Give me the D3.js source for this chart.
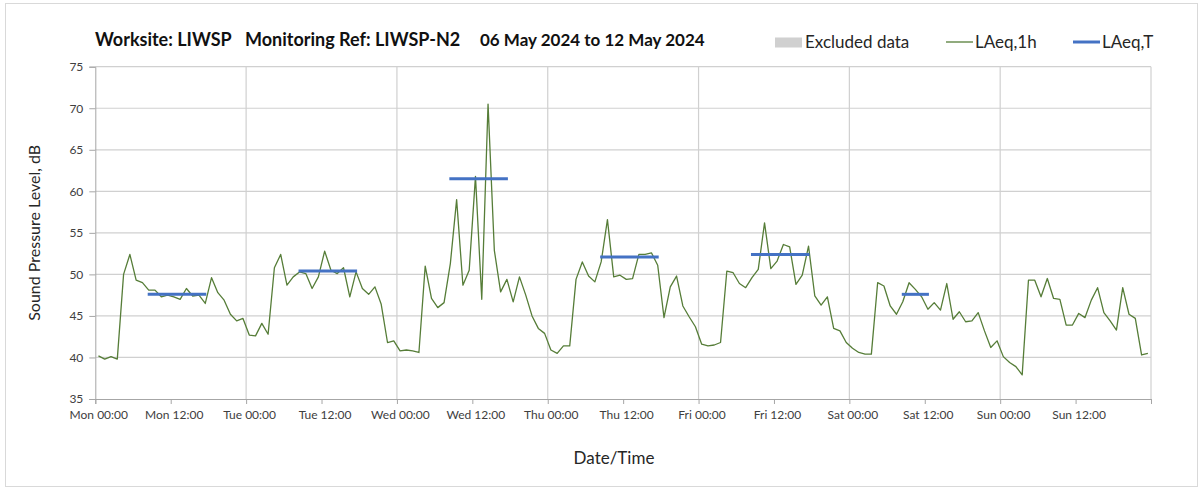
<!DOCTYPE html>
<html><head><meta charset="utf-8">
<script src="https://cdn.jsdelivr.net/npm/d3@7"></script>
<style>
html,body{margin:0;padding:0;background:#fff;}
svg{display:block;font-family:Lato,"Open Sans",sans-serif;}
</style></head>
<body>
<svg id="chart" width="1203" height="490"></svg>
<script>
// Hourly LAeq,1h values, Mon 06 May 00:00 .. Sun 12 May 23:00
const laeq1h = [
  40.2,39.8,40.1,39.8,50.0,52.4,49.3,49.0,48.1,48.1,47.3,47.5,47.3,47.0,48.3,47.4,47.5,46.5,49.6,47.8,46.9,45.2,44.4,44.7,
  42.7,42.6,44.1,42.8,50.8,52.4,48.7,49.7,50.3,50.1,48.3,49.7,52.8,50.5,50.1,50.8,47.3,50.3,48.3,47.6,48.5,46.4,41.8,42.0,
  40.8,40.9,40.8,40.6,51.0,47.1,46.0,46.6,51.3,59.0,48.7,50.5,61.8,47.0,70.5,52.9,47.9,49.4,46.7,49.7,47.5,45.0,43.5,42.9,
  40.9,40.5,41.4,41.4,49.4,51.5,49.8,49.1,51.5,56.6,49.7,49.9,49.4,49.5,52.4,52.4,52.6,51.1,44.8,48.5,49.8,46.2,44.9,43.7,
  41.6,41.4,41.5,41.8,50.4,50.2,48.9,48.4,49.6,50.6,56.2,50.7,51.6,53.6,53.3,48.8,49.9,53.4,47.4,46.3,47.3,43.5,43.2,41.8,
  41.1,40.6,40.4,40.4,49.0,48.6,46.2,45.2,46.7,49.0,48.2,47.3,45.8,46.6,45.7,48.9,44.6,45.5,44.3,44.4,45.4,43.2,41.2,42.0,
  40.1,39.4,38.9,37.9,49.3,49.3,47.3,49.5,47.1,47.0,43.9,43.9,45.3,44.8,46.9,48.4,45.4,44.4,43.3,48.4,45.2,44.7,40.3,40.5
];
// LAeq,T periods (first and last hour index) and values
const periodStart = [8, 32, 56, 80, 104, 128];
const periodEnd   = [17, 41, 65, 89, 113, 132];
const laeqT       = [47.6, 50.4, 61.5, 52.1, 52.4, 47.6];
// Axis tick labels (every 12 hours)
const tickLabels = ["Mon 00:00","Mon 12:00","Tue 00:00","Tue 12:00","Wed 00:00","Wed 12:00","Thu 00:00",
  "Thu 12:00","Fri 00:00","Fri 12:00","Sat 00:00","Sat 12:00","Sun 00:00","Sun 12:00"];
const yTicks = [35,40,45,50,55,60,65,70,75];

const svg = d3.select("#chart");
const L = 95.3, R = 1151, T = 66.7, B = 399;
const nH = laeq1h.length;
const x = d3.scaleLinear().domain([0, nH]).range([L, R]);
const y = d3.scaleLinear().domain([35, 75]).range([B, T]);

// outer border
svg.append("rect").attr("x",5.5).attr("y",3.5).attr("width",1192).attr("height",483)
  .attr("fill","none").attr("stroke","#d9d9d9").attr("stroke-width",1);

// horizontal gridlines
svg.append("g").selectAll("line").data(yTicks.slice(1)).join("line")
  .attr("x1",L).attr("x2",R).attr("y1",d=>y(d)).attr("y2",d=>y(d))
  .attr("stroke","#d0d0d0").attr("stroke-width",1.2);
// vertical gridlines at day boundaries
const dayTicks = d3.range(24, nH + 1, 24);
svg.append("g").selectAll("line").data(dayTicks).join("line")
  .attr("x1",d=>x(d)).attr("x2",d=>x(d)).attr("y1",T).attr("y2",B)
  .attr("stroke","#d0d0d0").attr("stroke-width",1.2);

// y axis
const yAxis = d3.axisLeft(y).tickValues(yTicks).tickSize(6).tickPadding(6);
const gy = svg.append("g").attr("transform",`translate(${L},0)`).call(yAxis);
gy.select(".domain").attr("stroke","#a6a6a6");
gy.selectAll(".tick line").attr("stroke","#a6a6a6");
gy.selectAll(".tick text").attr("fill","#404040").style("font-size","12px").style("font-family","Lato,sans-serif");

// x axis
const xTickVals = d3.range(0, nH + 1, 12);
const xAxis = d3.axisBottom(x).tickValues(xTickVals).tickSize(5).tickPadding(6)
  .tickFormat((d,i)=> tickLabels[i] || "");
const gx = svg.append("g").attr("transform",`translate(0,${B})`).call(xAxis);
gx.select(".domain").attr("stroke","#a6a6a6");
gx.selectAll(".tick line").attr("stroke","#a6a6a6");
gx.selectAll(".tick text").attr("fill","#404040").attr("dx",3).style("font-size","12px").style("font-family","Lato,sans-serif");

// LAeq,1h line
const line = d3.line().x((d,i)=>x(i+0.5)).y(d=>y(d));
svg.append("path").datum(laeq1h).attr("d",line)
  .attr("fill","none").attr("stroke","#567d38").attr("stroke-width",1.3).attr("stroke-linejoin","round");

// LAeq,T segments
svg.append("g").selectAll("line").data(laeqT).join("line")
  .attr("x1",(d,i)=>x(periodStart[i]+0.5)-1).attr("x2",(d,i)=>x(periodEnd[i]+0.5)+1)
  .attr("y1",d=>y(d)).attr("y2",d=>y(d))
  .attr("stroke","#4472c4").attr("stroke-width",3);

// title
const title = svg.append("g").style("font-weight","bold").attr("fill","#111");
title.append("text").attr("x",95).attr("y",46).style("font-size","18px").text("Worksite: LIWSP");
title.append("text").attr("x",245).attr("y",46).style("font-size","18px").text("Monitoring Ref: LIWSP-N2");
title.append("text").attr("x",480).attr("y",46).style("font-size","17px").text("06 May 2024 to 12 May 2024");

// legend
const lg = svg.append("g").style("font-size","17px").attr("fill","#262626");
lg.append("rect").attr("x",775).attr("y",37.5).attr("width",27).attr("height",10).attr("fill","#d0d0d0");
lg.append("text").attr("x",805).attr("y",48).text("Excluded data");
lg.append("line").attr("x1",946).attr("x2",973).attr("y1",42).attr("y2",42).attr("stroke","#567d38").attr("stroke-width",1.3);
lg.append("text").attr("x",975).attr("y",48).text("LAeq,1h");
lg.append("line").attr("x1",1073).attr("x2",1100).attr("y1",42).attr("y2",42).attr("stroke","#4472c4").attr("stroke-width",3);
lg.append("text").attr("x",1102).attr("y",48).text("LAeq,T");

// axis titles
svg.append("text").attr("transform",`translate(40,${(T+B)/2}) rotate(-90)`).attr("text-anchor","middle")
  .style("font-size","16px").attr("fill","#262626").text("Sound Pressure Level, dB");
svg.append("text").attr("x",614).attr("y",464).attr("text-anchor","middle")
  .style("font-size","17px").attr("fill","#262626").text("Date/Time");
</script>
</body></html>
